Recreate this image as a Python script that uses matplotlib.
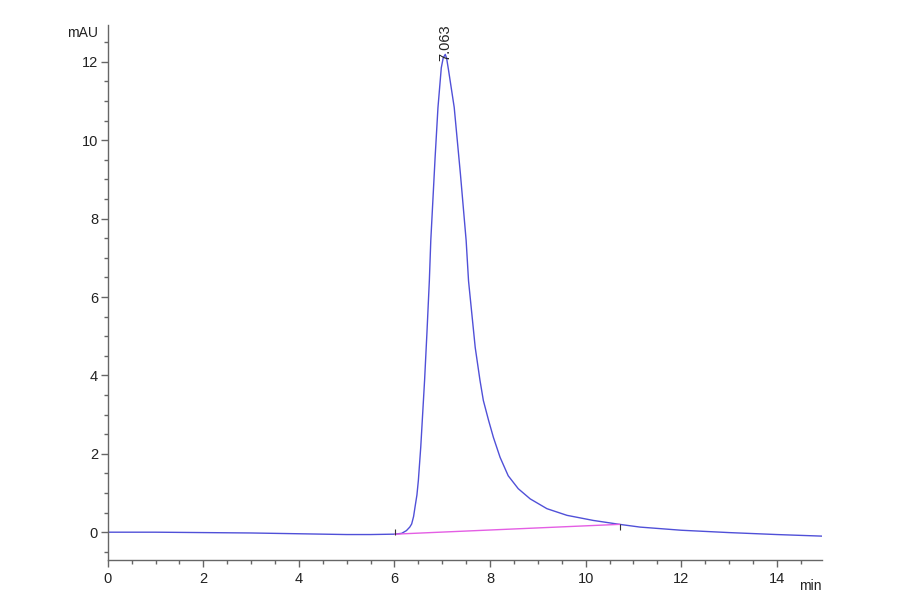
import matplotlib
matplotlib.use("Agg")
import matplotlib.pyplot as plt
from matplotlib.ticker import MultipleLocator

time_min = [0.0, 1.0, 2.0, 3.0, 4.0, 5.0, 5.5, 6.0, 6.15, 6.25, 6.32, 6.36,
            6.40, 6.43, 6.47, 6.50, 6.55, 6.59, 6.63, 6.68, 6.73, 6.76,
            6.85, 6.91, 6.98, 7.02, 7.063, 7.09, 7.13, 7.25, 7.38, 7.50,
            7.55, 7.62, 7.69, 7.79, 7.86, 7.97, 8.07, 8.21, 8.38, 8.59,
            8.84, 9.19, 9.61, 10.16, 10.71, 11.14, 12.0, 13.0, 14.0, 14.94]
signal_mau = [0.0, 0.0, -0.01, -0.02, -0.04, -0.06, -0.06, -0.05, -0.03,
              0.04, 0.13, 0.21, 0.40, 0.64, 0.95, 1.32, 2.17, 3.02, 3.87,
              5.10, 6.42, 7.44, 9.55, 10.83, 11.85, 12.10, 12.19, 12.10,
              11.80, 10.84, 9.14, 7.44, 6.41, 5.56, 4.71, 3.87, 3.36, 2.85,
              2.42, 1.91, 1.44, 1.11, 0.85, 0.60, 0.43, 0.30, 0.20, 0.13,
              0.05, -0.01, -0.06, -0.10]

# Ligne de base de l'intégration
base_time = [6.01, 10.71]
base_mau = [-0.05, 0.20]

peak_time = 7.063
peak_mau = 12.19
peak_label = "7.063"

fig = plt.figure(figsize=(9, 5.94), dpi=100)
ax = fig.add_axes([0.1197, 0.0572, 0.7933, 0.9007])

ax.plot(time_min, signal_mau, color="#5050d8", lw=1.0)
ax.plot(base_time, base_mau, color="#e45ee4", lw=1.0)
ax.plot(base_time[:1], [base_mau[0] + 0.06], marker="|", color="#333333",
        ms=5, mew=0.8, ls="none")
ax.plot(base_time[1:], [base_mau[1] - 0.06], marker="|", color="#333333",
        ms=5, mew=0.8, ls="none")

ax.text(peak_time, peak_mau - 0.17, peak_label, rotation=90, ha="center",
        va="bottom", fontsize=10.5, color="#222222", family="Liberation Sans")

ax.set_xlim(0, 14.94)
ax.set_ylim(-0.71, 12.94)

for side in ["top", "right"]:
    ax.spines[side].set_visible(False)
for side in ["left", "bottom"]:
    ax.spines[side].set_color("#666666")
    ax.spines[side].set_linewidth(1.0)

ax.xaxis.set_major_locator(MultipleLocator(2))
ax.xaxis.set_minor_locator(MultipleLocator(0.5))
ax.yaxis.set_major_locator(MultipleLocator(2))
ax.yaxis.set_minor_locator(MultipleLocator(0.5))
ax.tick_params(which="major", length=5, width=1, color="#666666",
               labelsize=10.5, labelcolor="#222222")
ax.tick_params(axis="y", which="major", pad=2)
ax.tick_params(which="minor", length=3, width=1, color="#666666")
for lab in ax.get_xticklabels() + ax.get_yticklabels():
    lab.set_family("Liberation Sans")

ax.text(-0.014, 0.985, "mAU", transform=ax.transAxes, ha="right",
        va="center", fontsize=10, color="#222222", family="Liberation Sans")
ax.text(1.0, -0.035, "min", transform=ax.transAxes, ha="right", va="top",
        fontsize=10, color="#222222", family="Liberation Sans")

fig.savefig("out.png", dpi=100, facecolor="white")
